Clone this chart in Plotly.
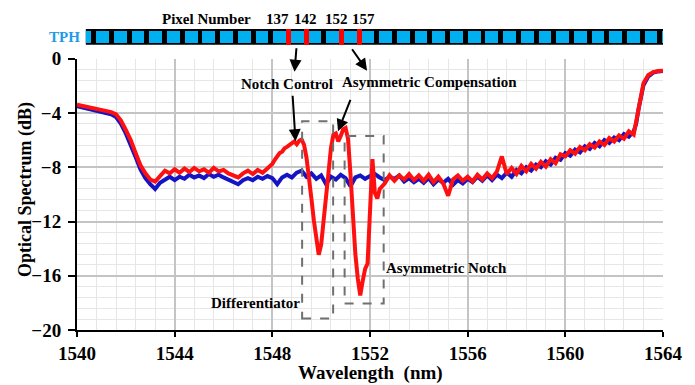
import plotly.graph_objects as go

# ---------------- data ----------------
wl_blue = [1540.0, 1540.2, 1540.4, 1540.6, 1540.8, 1541.0, 1541.2, 1541.4, 1541.6, 1541.8,
           1542.0, 1542.2, 1542.4, 1542.6, 1542.8, 1543.0, 1543.2, 1543.4, 1543.6, 1543.8,
           1544.0, 1544.2, 1544.4, 1544.6, 1544.8, 1545.0, 1545.2, 1545.4, 1545.6, 1545.8,
           1546.0, 1546.2, 1546.4, 1546.6, 1546.8, 1547.0, 1547.2, 1547.4, 1547.6, 1547.8,
           1548.0, 1548.2, 1548.4, 1548.6, 1548.8, 1549.0, 1549.2, 1549.4, 1549.6, 1549.8,
           1550.0, 1550.2, 1550.4, 1550.6, 1550.8, 1551.0, 1551.2, 1551.4, 1551.6, 1551.8,
           1552.0, 1552.2, 1552.4, 1552.6, 1552.8, 1553.0, 1553.2, 1553.4, 1553.6, 1553.8,
           1554.0, 1554.2, 1554.4, 1554.6, 1554.8, 1555.0, 1555.2, 1555.4, 1555.6, 1555.8,
           1556.0, 1556.2, 1556.4, 1556.6, 1556.8, 1557.0, 1557.2, 1557.4, 1557.6, 1557.8,
           1558.0, 1558.2, 1558.4, 1558.6, 1558.8, 1559.0, 1559.2, 1559.4, 1559.6, 1559.8,
           1560.0, 1560.2, 1560.4, 1560.6, 1560.8, 1561.0, 1561.2, 1561.4, 1561.6, 1561.8,
           1562.0, 1562.2, 1562.4, 1562.6, 1562.8, 1562.9, 1563.0, 1563.1, 1563.2, 1563.4,
           1563.6, 1563.8, 1564.0]
blue_db = [-3.50, -3.58, -3.66, -3.74, -3.82, -3.90, -3.98, -4.10, -4.30, -4.80,
           -5.50, -6.30, -7.25, -8.15, -8.80, -9.25, -9.60, -9.15, -8.90, -8.70,
           -8.95, -8.70, -8.85, -8.55, -8.75, -8.60, -8.80, -8.50, -8.70, -8.55,
           -8.75, -8.90, -9.05, -9.25, -8.95, -8.80, -8.95, -8.70, -8.85, -8.65,
           -8.80, -9.25, -8.75, -8.55, -8.75, -8.40, -8.25, -8.70, -8.45, -8.85,
           -8.60, -9.25, -8.70, -8.90, -8.55, -8.80, -9.40, -8.75, -8.60, -8.85,
           -8.65, -8.50, -8.75, -8.95, -8.70, -8.85, -8.60, -9.05, -8.80, -9.10,
           -8.85, -9.15, -8.80, -9.25, -8.90, -9.15, -8.85, -9.30, -8.95, -9.20,
           -8.85, -9.10, -8.70, -9.00, -8.60, -8.95, -8.55, -8.80, -8.40, -8.70,
           -8.20, -8.45, -8.00, -8.25, -7.80, -8.00, -7.55, -7.80, -7.30, -7.45,
           -6.95, -7.15, -6.70, -6.90, -6.45, -6.65, -6.20, -6.45, -6.00, -6.20,
           -5.80, -6.00, -5.55, -5.75, -5.35, -4.80, -3.70, -2.70, -1.95, -1.30,
           -1.02, -0.93, -0.90]

wl_red = [1540.0, 1540.2, 1540.4, 1540.6, 1540.8, 1541.0, 1541.2, 1541.4, 1541.6, 1541.8,
          1542.0, 1542.2, 1542.4, 1542.6, 1542.8, 1543.0, 1543.2, 1543.4, 1543.6, 1543.8,
          1544.0, 1544.2, 1544.4, 1544.6, 1544.8, 1545.0, 1545.2, 1545.4, 1545.6, 1545.8,
          1546.0, 1546.2, 1546.4, 1546.6, 1546.8, 1547.0, 1547.2, 1547.4, 1547.6, 1547.8,
          1548.0, 1548.1, 1548.2, 1548.3, 1548.4, 1548.5, 1548.6, 1548.7, 1548.8, 1548.9,
          1549.0, 1549.1, 1549.2, 1549.3, 1549.4, 1549.5, 1549.6, 1549.7, 1549.8, 1549.9,
          1550.0, 1550.1, 1550.2, 1550.3, 1550.4, 1550.5, 1550.6, 1550.7, 1550.8, 1550.9,
          1551.0, 1551.1, 1551.2, 1551.3, 1551.4, 1551.5, 1551.6, 1551.7, 1551.8, 1551.9,
          1552.0, 1552.1, 1552.2, 1552.3, 1552.4, 1552.6, 1552.8, 1553.0, 1553.2, 1553.4,
          1553.6, 1553.8, 1554.0, 1554.2, 1554.4, 1554.6, 1554.8, 1555.0, 1555.2, 1555.4,
          1555.6, 1555.8, 1556.0, 1556.2, 1556.4, 1556.6, 1556.8, 1557.0, 1557.2, 1557.4,
          1557.6, 1557.8, 1558.0, 1558.2, 1558.4, 1558.6, 1558.8, 1559.0, 1559.2, 1559.4,
          1559.6, 1559.8, 1560.0, 1560.2, 1560.4, 1560.6, 1560.8, 1561.0, 1561.2, 1561.4,
          1561.6, 1561.8, 1562.0, 1562.2, 1562.4, 1562.6, 1562.8, 1562.9, 1563.0, 1563.1,
          1563.2, 1563.4, 1563.6, 1563.8, 1564.0]
red_db = [-3.38, -3.46, -3.53, -3.60, -3.67, -3.75, -3.83, -3.93, -4.10, -4.55,
          -5.25, -6.00, -6.95, -7.85, -8.45, -8.90, -9.05, -8.70, -8.25, -8.45,
          -8.15, -8.40, -8.10, -8.35, -8.05, -8.30, -8.15, -8.40, -8.05, -8.30,
          -8.20, -8.45, -8.60, -8.75, -8.45, -8.25, -8.50, -8.20, -8.40, -8.05,
          -7.75, -7.45, -7.20, -6.95, -6.85, -6.60, -6.50, -6.35, -6.25, -6.10,
          -6.30, -6.05, -5.95, -6.35, -7.30, -8.60, -10.30, -11.90, -13.30, -14.45,
          -13.70, -12.10, -10.40, -8.40, -6.60, -5.60, -5.50, -6.10, -5.70, -5.20,
          -5.10, -5.90, -8.50, -11.80, -14.40, -16.20, -17.45, -16.40, -15.50, -15.10,
          -10.80, -7.40, -9.90, -10.30, -9.60, -9.20, -8.60, -9.00, -8.60, -8.90,
          -8.50, -8.95, -8.60, -9.00, -8.55, -9.10, -8.70, -9.20, -10.10, -8.90,
          -8.60, -9.00, -8.70, -9.05, -8.55, -8.90, -8.45, -8.80, -8.30, -7.20,
          -8.50, -8.05, -8.50, -7.90, -8.30, -7.75, -8.10, -7.60, -7.95, -7.40,
          -7.70, -7.05, -7.20, -6.75, -7.00, -6.50, -6.75, -6.30, -6.55, -6.10,
          -6.35, -5.85, -6.10, -5.65, -5.90, -5.35, -5.60, -4.60, -3.50, -2.50,
          -1.80, -1.20, -0.98, -0.90, -0.88]

x_ticks = [1540, 1544, 1548, 1552, 1556, 1560, 1564]
y_ticks = [0, -4, -8, -12, -16, -20]

# TPH pixel bar: one cell per 5 pixels, separators at pixel 82, 87, ..., 242
tph_first_sep = 82
tph_step = 5
tph_n_cells = 34
pixel_numbers = [137, 142, 152, 157]
pixel_label_shift = [-11, 0, -5, 5]

# dashed boxes (wavelength, dB)
box_diff = [1549.22, 1550.49, -19.15, -4.6]
box_asym = [1550.96, 1552.56, -18.05, -5.7]

FONT = "Liberation Serif"
BLUE = "#1414c4"
RED = "#ff1010"
CYAN = "#00aff0"

fig = go.Figure()
fig.add_trace(go.Scatter(x=wl_blue, y=blue_db, mode="lines",
                         line=dict(color=BLUE, width=4), xaxis="x", yaxis="y"))
fig.add_trace(go.Scatter(x=wl_red, y=red_db, mode="lines",
                         line=dict(color=RED, width=4), xaxis="x", yaxis="y"))

cell_centers = [tph_first_sep - tph_step / 2 + tph_step * j for j in range(tph_n_cells)]
fig.add_trace(go.Bar(x=cell_centers, y=[0.8] * tph_n_cells, base=0.1, width=3.6,
                     marker=dict(color=CYAN, line=dict(width=0)),
                     xaxis="x2", yaxis="y2", hoverinfo="skip"))
fig.add_trace(go.Bar(x=pixel_numbers, y=[1] * len(pixel_numbers), base=0, width=1.4,
                     marker=dict(color="#ff0000", line=dict(width=0)),
                     xaxis="x2", yaxis="y2", hoverinfo="skip"))

tickfont = dict(family=FONT, size=19, color="black", weight="bold")
grid_major = "#c4c4c4"
grid_minor = "#e6e6e6"

fig.update_layout(
    width=695, height=385,
    margin=dict(l=77, r=20, t=20, b=55),
    paper_bgcolor="white", plot_bgcolor="white",
    showlegend=False, barmode="overlay", bargap=0,
    xaxis=dict(domain=[0, 1], range=[1540, 1564], anchor="y",
               tickvals=x_ticks, tickfont=tickfont,
               showgrid=True, gridcolor=grid_major, gridwidth=1.5,
               minor=dict(dtick=0.8, tick0=1540, showgrid=True, gridcolor=grid_minor, gridwidth=1),
               showline=True, linecolor="black", linewidth=2,
               ticks="outside", ticklen=5, tickwidth=2, tickcolor="black",
               ticklabelstandoff=0, zeroline=False),
    yaxis=dict(domain=[0, 0.8806], range=[-20, 0], anchor="x",
               tickvals=y_ticks, tickfont=tickfont,
               showgrid=True, gridcolor=grid_major, gridwidth=1.5,
               minor=dict(dtick=0.8, tick0=0, showgrid=True, gridcolor=grid_minor, gridwidth=1),
               showline=True, linecolor="black", linewidth=2,
               ticks="outside", ticklen=7, tickwidth=2, tickcolor="black",
               ticklabelstandoff=3, zeroline=False),
    xaxis2=dict(domain=[0.01505, 1], range=[79.78, 242.94], anchor="y2", visible=False, fixedrange=True),
    yaxis2=dict(domain=[0.9258, 0.9774], range=[0, 1], anchor="x2", visible=False, fixedrange=True),
)

# axis titles placed as annotations (plot area spans x 77..675, y 20..330 px)
fig.add_annotation(xref="paper", yref="paper", x=(376 - 77) / 598, y=(330 - 373) / 310,
                   text="Wavelength\u00a0\u00a0(nm)", showarrow=False,
                   xanchor="center", yanchor="middle",
                   font=dict(family=FONT, size=19, color="black", weight="bold"))
fig.add_annotation(xref="paper", yref="paper", x=(25 - 77) / 598, y=(330 - 189) / 310,
                   text="Optical Spectrum (dB)", showarrow=False, textangle=-90,
                   xanchor="center", yanchor="middle",
                   font=dict(family=FONT, size=18, color="black", weight="bold"))

# black frame of the TPH bar
fig.add_shape(type="rect", xref="x2 domain", yref="y2 domain", x0=0, x1=1, y0=0, y1=1,
              fillcolor="black", line=dict(width=0), layer="below")

# dashed boxes
for b in (box_diff, box_asym):
    fig.add_shape(type="rect", xref="x", yref="y", x0=b[0], x1=b[1], y0=b[2], y1=b[3],
                  line=dict(color="#707070", width=2, dash="dash"), fillcolor="rgba(0,0,0,0)")

afont = dict(family=FONT, size=15, color="black", weight="bold")

# TPH label and pixel numbers
fig.add_annotation(xref="x2", yref="y2", x=79.78, y=0.5, text="TPH", showarrow=False,
                   xanchor="right", yanchor="middle", xshift=-4,
                   font=dict(family=FONT, size=15, color="#1e9be6", weight="bold"))
fig.add_annotation(xref="x2", yref="y2", x=114, y=1, text="Pixel Number", showarrow=False,
                   xanchor="center", yanchor="bottom", yshift=0, font=afont)
for p, s in zip(pixel_numbers, pixel_label_shift):
    fig.add_annotation(xref="x2", yref="y2", x=p, y=1, text=str(p), showarrow=False,
                       xanchor="center", yanchor="bottom", yshift=0, xshift=s, font=afont)

# text labels
fig.add_annotation(x=1548.59, y=-1.83, text="Notch Control", showarrow=False, font=afont)
fig.add_annotation(x=1554.45, y=-1.69, text="Asymmetric Compensation", showarrow=False, font=afont)
fig.add_annotation(x=1549.2, y=-18.0, text="Differentiator", showarrow=False,
                   xanchor="right", font=afont)
fig.add_annotation(x=1552.58, y=-15.4, text="Asymmetric Notch", showarrow=False,
                   xanchor="left", font=afont)

# arrows
arrows = [
    (1548.91, -0.96, 2, -25),
    (1551.88, -0.88, -16, -23),
    (1548.95, -6.08, -3, -47),
    (1550.69, -5.35, 13, -33),
]
for x, y, ax, ay in arrows:
    fig.add_annotation(x=x, y=y, ax=ax, ay=ay, text="", showarrow=True,
                       arrowhead=2, arrowsize=1.2, arrowwidth=2, arrowcolor="black")

fig.write_html("out.html")
